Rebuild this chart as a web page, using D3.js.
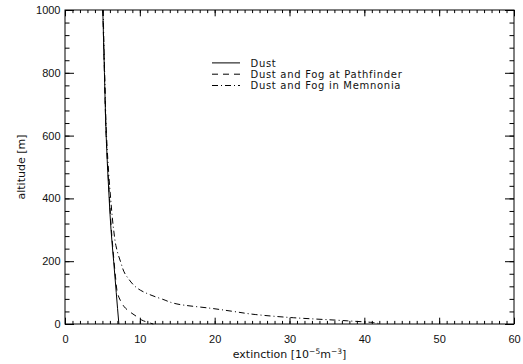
<!DOCTYPE html>
<html>
<head>
<meta charset="utf-8">
<script src="https://cdn.jsdelivr.net/npm/d3@7"></script>
<style>
  body { margin: 0; background: #fff; }
  svg { display: block; font-family: "DejaVu Sans", sans-serif; }
  .c-tick text { font-size: 11px; fill: #111; }
  .c-axis { font-size: 11px; fill: #111; }
  .c-legend { font-size: 10px; letter-spacing: 0.7px; fill: #111; }
</style>
</head>
<body>
<svg class="js-render-chart" width="523" height="364"></svg>
<script>
"use strict";

//data

const dustAlt = [1000, 800, 600, 400, 300, 200, 100, 50, 0];
const dustExt = [5.05, 5.27, 5.5, 5.9, 6.15, 6.5, 6.85, 7.02, 7.2];

const pathAlt = [1000, 800, 600, 400, 300, 200, 150, 100, 75, 50, 25, 10, 0];
const pathExt = [5.05, 5.27, 5.5, 5.95, 6.2, 6.55, 6.75, 7.0, 7.4, 8.1, 9.5, 10.5, 11.8];

const memAlt = [1000, 800, 600, 400, 300, 250, 200, 150, 100, 80, 60, 50, 40, 30, 20, 10, 4, 0];
const memExt = [5.1, 5.3, 5.55, 6.1, 6.5, 6.8, 7.4, 8.3, 10.7, 12.9, 15.9, 19.5, 22.5, 25.5, 30.5, 37.8, 41.4, 42];

const seriesNames = ["Dust", "Dust and Fog at Pathfinder", "Dust and Fog in Memnonia"];

const xTickLabels = [0, 10, 20, 30, 40, 50, 60];
const yTickLabels = [0, 200, 400, 600, 800, 1000];

//svg params

const params = {
  l: 65,
  r: 514,
  t: 10,
  b: 324
};

const x = d3.scaleLinear().domain([0, 60]).range([params.l, params.r]);
const y = d3.scaleLinear().domain([0, 1000]).range([params.b, params.t]);

const svg = d3.select(".js-render-chart");

//ticks

const xMinor = d3.range(0, 61, 1);
const yMinor = d3.range(0, 1001, 40);

const tickAxis = (axisFn, scale, values, size, pos, labels) => {
  const axis = axisFn(scale)
    .tickValues(values)
    .tickSizeInner(-size)
    .tickSizeOuter(0)
    .tickPadding(labels ? (axisFn === d3.axisBottom ? 11 : 4.5) : 0)
    .tickFormat(labels ? d3.format("d") : "");
  const g = svg.append("g")
    .attr("class", "c-tick")
    .attr("transform", pos)
    .call(axis);
  g.select(".domain").remove();
  g.selectAll("line").attr("stroke", "#000");
  g.selectAll("text").attr("font-family", null).attr("font-size", null);
};

tickAxis(d3.axisBottom, x, xMinor, 3.1, `translate(0, ${params.b})`, false);
tickAxis(d3.axisBottom, x, xTickLabels, 6.3, `translate(0, ${params.b})`, true);
tickAxis(d3.axisTop, x, xMinor, 3.1, `translate(0, ${params.t})`, false);
tickAxis(d3.axisTop, x, xTickLabels, 6.3, `translate(0, ${params.t})`, false);
tickAxis(d3.axisLeft, y, yMinor, 4.5, `translate(${params.l}, 0)`, false);
tickAxis(d3.axisLeft, y, yTickLabels, 9, `translate(${params.l}, 0)`, true);
tickAxis(d3.axisRight, y, yMinor, 4.5, `translate(${params.r}, 0)`, false);
tickAxis(d3.axisRight, y, yTickLabels, 9, `translate(${params.r}, 0)`, false);

//frame

svg.append("rect")
  .attr("x", params.l)
  .attr("y", params.t)
  .attr("width", params.r - params.l)
  .attr("height", params.b - params.t)
  .attr("fill", "none")
  .attr("stroke", "#000");

//axis titles

const xTitle = svg.append("text")
  .attr("class", "c-axis")
  .attr("text-anchor", "middle")
  .attr("x", (params.l + params.r) / 2)
  .attr("y", 358);

xTitle.append("tspan").text("extinction [10");
xTitle.append("tspan").attr("dy", -4.5).attr("font-size", 7.5).text("\u22125");
xTitle.append("tspan").attr("dy", 4.5).text("m");
xTitle.append("tspan").attr("dy", -4.5).attr("font-size", 7.5).text("\u22123");
xTitle.append("tspan").attr("dy", 4.5).text("]");

svg.append("text")
  .attr("class", "c-axis")
  .attr("text-anchor", "middle")
  .attr("transform", `translate(25, ${(params.t + params.b) / 2}) rotate(-90)`)
  .text("altitude [m]");

//lines

const line = d3.line()
  .x((d) => x(d[1]))
  .y((d) => y(d[0]))
  .curve(d3.curveMonotoneY);

const dashes = [null, "6,5", "6,3,1,3"];

const series = [
  d3.zip(dustAlt, dustExt),
  d3.zip(pathAlt, pathExt),
  d3.zip(memAlt, memExt)
];

series.forEach((s, i) => {
  svg.append("path")
    .datum(s)
    .attr("d", line)
    .attr("fill", "none")
    .attr("stroke", "#000")
    .attr("stroke-width", 1)
    .attr("stroke-dasharray", dashes[i]);
});

//legend

const legend = svg.append("g")
  .attr("transform", "translate(212, 66.5)");

seriesNames.forEach((name, i) => {
  legend.append("line")
    .attr("x1", 0)
    .attr("x2", 28)
    .attr("y1", i * 11.3 - 3.6)
    .attr("y2", i * 11.3 - 3.6)
    .attr("stroke", "#000")
    .attr("stroke-dasharray", dashes[i]);
  legend.append("text")
    .attr("class", "c-legend")
    .attr("x", 38.5)
    .attr("y", i * 11.3)
    .text(name);
});
</script>
</body>
</html>
